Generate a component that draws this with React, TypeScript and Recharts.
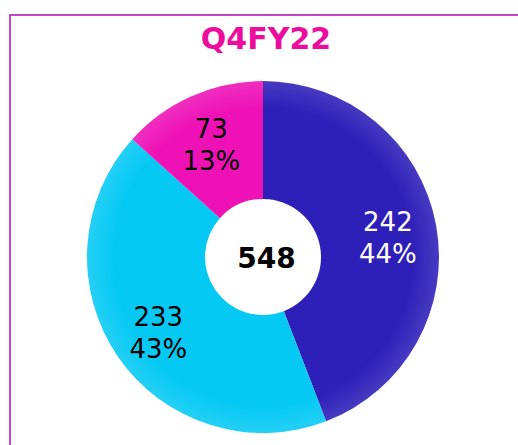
import React from "react";
import { PieChart, Pie, Cell } from "recharts";

const categories = ["Blue", "Cyan", "Magenta"];
const values = [242, 233, 73];
const percents = ["44%", "43%", "13%"];
const colors = ["#2E1FB8", "#06C9F3", "#EE12B6"];
const labelColors = ["#FFFFFF", "#000000", "#000000"];
const total = 548;
const title = "Q4FY22";

const data = categories.map((c, i) => ({ name: c, value: values[i] }));

const RAD = Math.PI / 180;

const renderLabel = (props: any) => {
  const { cx, cy, midAngle, index } = props;
  const r = 127;
  const x = cx + r * Math.cos(-midAngle * RAD);
  const y = cy + r * Math.sin(-midAngle * RAD);
  return (
    <text
      x={x}
      y={y}
      fill={labelColors[index]}
      textAnchor="middle"
      fontFamily="DejaVu Sans, Verdana, sans-serif"
      fontSize={26}
    >
      <tspan x={x} y={y - 3}>{values[index]}</tspan>
      <tspan x={x} y={y + 29}>{percents[index]}</tspan>
    </text>
  );
};

export default function App() {
  return (
    <div style={{ position: "absolute", left: 0, top: 0, width: 518, height: 445, overflow: "hidden", background: "#fff" }}>
      <div
        style={{
          position: "absolute",
          left: 9,
          top: 14,
          width: 540,
          height: 460,
          border: "2px solid #C545C8",
        }}
      />
      <div
        style={{
          position: "absolute",
          left: 0,
          top: 21,
          width: 532,
          textAlign: "center",
          fontFamily: "DejaVu Sans, Verdana, sans-serif",
          fontWeight: "bold",
          fontSize: 30,
          color: "#EC0C9E",
        }}
      >
        {title}
      </div>
      <div style={{ position: "absolute", left: 0, top: 0 }}>
        <PieChart width={518} height={445}>
          <defs>
            {colors.map((c, i) => (
              <radialGradient key={i} id={`g${i}`} cx="263" cy="257" r="176" gradientUnits="userSpaceOnUse">
                <stop offset="0.33" stopColor={c} stopOpacity={1} />
                <stop offset="0.85" stopColor={c} stopOpacity={1} />
                <stop offset="1" stopColor={c} stopOpacity={0.88} />
              </radialGradient>
            ))}
          </defs>
          <Pie
            data={data}
            dataKey="value"
            cx={258}
            cy={252}
            innerRadius={58}
            outerRadius={176}
            startAngle={90}
            endAngle={-270}
            stroke="none"
            label={renderLabel}
            labelLine={false}
            isAnimationActive={false}
          >
            {data.map((d, i) => (
              <Cell key={d.name} fill={`url(#g${i})`} />
            ))}
          </Pie>
          <text
            x={266.5}
            y={268}
            textAnchor="middle"
            fontFamily="DejaVu Sans, Verdana, sans-serif"
            fontWeight="bold"
            fontSize={28}
            fill="#000"
          >
            {total}
          </text>
        </PieChart>
      </div>
    </div>
  );
}
